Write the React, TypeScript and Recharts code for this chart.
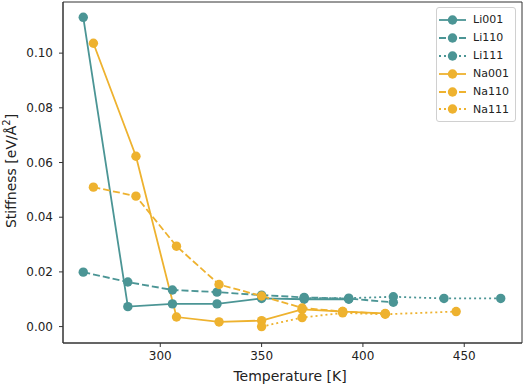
import { LineChart, Line, XAxis, YAxis, ReferenceArea, Legend } from "recharts";

// temperatures (K) where each material was sampled
const liTemps = [262, 284, 306, 328, 350, 371, 393, 415, 440, 468];
const naTemps = [267, 288, 308, 329, 350, 370, 390, 411, 446];

// stiffness in eV/Å^2, null where the facet has no point
const li001 = [0.1131, 0.0073, 0.0083, 0.0083, 0.0103, 0.01, 0.01, null, null, null];
const li110 = [0.0199, 0.0163, 0.0134, 0.0126, 0.0115, 0.0107, 0.0102, 0.0089, null, null];
const li111 = [null, null, null, null, null, 0.0104, 0.0104, 0.0109, 0.0103, 0.0103];
const na001 = [0.1036, 0.0623, 0.0035, 0.0017, 0.0022, 0.0063, 0.0055, 0.0048, null];
const na110 = [0.051, 0.0477, 0.0294, 0.0154, 0.0112, 0.0068, 0.0055, 0.0047, null];
const na111 = [null, null, null, null, 0.0, 0.0033, 0.005, 0.0045, 0.0055];

const xTicks = [300, 350, 400, 450];
const yTicks = [0, 0.02, 0.04, 0.06, 0.08, 0.1];

const TEAL = "#4B9595";
const GOLD = "#EEB22F";
const DASH = "7 3";
const DOT = "2 3";

const liData = liTemps.map((t, i) => ({ t, li001: li001[i], li110: li110[i], li111: li111[i] }));
const naData = naTemps.map((t, i) => ({ t, na001: na001[i], na110: na110[i], na111: na111[i] }));

const series = [
  { key: "li001", name: "Li001", data: liData, color: TEAL, dash: undefined },
  { key: "li110", name: "Li110", data: liData, color: TEAL, dash: DASH },
  { key: "li111", name: "Li111", data: liData, color: TEAL, dash: DOT },
  { key: "na001", name: "Na001", data: naData, color: GOLD, dash: undefined },
  { key: "na110", name: "Na110", data: naData, color: GOLD, dash: DASH },
  { key: "na111", name: "Na111", data: naData, color: GOLD, dash: DOT },
];

const FONT = "DejaVu Sans";
const X_DOMAIN = [252, 478.5];
const Y_DOMAIN = [-0.006, 0.1187];

function LegendBox() {
  return (
    <div
      style={{
        border: "1px solid #d0d0d0",
        borderRadius: 3,
        background: "rgba(255,255,255,0.85)",
        padding: "3px 0 3px 1px",
        fontFamily: FONT,
        fontSize: 11,
        color: "#222",
      }}
    >
      {series.map((s) => (
        <div key={s.key} style={{ display: "flex", alignItems: "center", height: 17.9 }}>
          <svg width={30} height={12} style={{ display: "block" }}>
            <line x1={1} y1={6} x2={28} y2={6} stroke={s.color} strokeWidth={1.8} strokeDasharray={s.dash} />
            <circle cx={14.5} cy={6} r={4.7} fill={s.color} />
          </svg>
          <span style={{ marginLeft: 5 }}>{s.name}</span>
        </div>
      ))}
    </div>
  );
}

export default function App() {
  return (
    <div style={{ position: "absolute", left: 0, top: 0, fontFamily: FONT }}>
      <LineChart width={524} height={386} margin={{ top: 2, right: 2, left: 0, bottom: 0 }}>
        <XAxis
          dataKey="t"
          type="number"
          domain={X_DOMAIN}
          ticks={xTicks}
          allowDataOverflow
          height={43}
          tickSize={4}
          tickMargin={4}
          stroke="#333"
          tick={{ fill: "#222", fontSize: 12, fontFamily: FONT }}
          label={{
            content: () => (
              <text x={290} y={381} textAnchor="middle" fontSize={14} fontFamily={FONT} fill="#222">
                Temperature [K]
              </text>
            ),
          }}
        />
        <YAxis
          type="number"
          domain={Y_DOMAIN}
          ticks={yTicks}
          allowDataOverflow
          width={63}
          tickSize={4}
          tickMargin={6}
          stroke="#333"
          tickFormatter={(v: number) => v.toFixed(2)}
          tick={{ fill: "#222", fontSize: 12, fontFamily: FONT }}
          label={{
            content: () => (
              <text
                transform="rotate(-90)"
                x={-171}
                y={16}
                textAnchor="middle"
                fontSize={14}
                fontFamily={FONT}
                fill="#222"
              >
                Stiffness [eV/Å
                <tspan dy={-6} fontSize={10}>2</tspan>
                <tspan dy={6}>]</tspan>
              </text>
            ),
          }}
        />
        <ReferenceArea
          x1={X_DOMAIN[0]}
          x2={X_DOMAIN[1]}
          y1={Y_DOMAIN[0]}
          y2={Y_DOMAIN[1]}
          fill="none"
          stroke="#333"
          strokeWidth={1}
          ifOverflow="visible"
        />
        {series.map((s) => (
          <Line
            key={s.key}
            data={s.data}
            dataKey={s.key}
            name={s.name}
            type="linear"
            stroke={s.color}
            strokeWidth={1.8}
            strokeDasharray={s.dash}
            dot={{ r: 4.7, fill: s.color, stroke: "none", strokeDasharray: "none" }}
            activeDot={false}
            isAnimationActive={false}
          />
        ))}
        <Legend
          layout="vertical"
          align="center"
          verticalAlign="middle"
          wrapperStyle={{ left: 436, top: 7, width: 80 }}
          content={() => <LegendBox />}
        />
      </LineChart>
    </div>
  );
}
